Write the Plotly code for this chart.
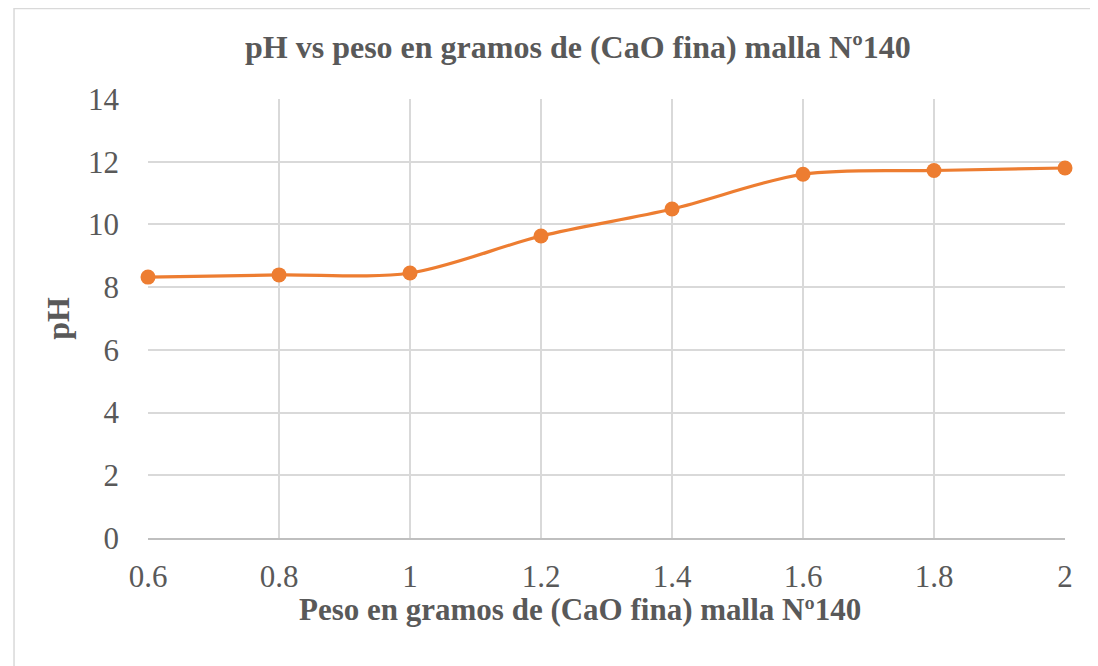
import plotly.graph_objects as go

# Datos
peso_gramos = [0.6, 0.8, 1.0, 1.2, 1.4, 1.6, 1.8, 2.0]
ph_valores = [8.32, 8.39, 8.45, 9.63, 10.49, 11.6, 11.72, 11.8]
x_ticks = [0.6, 0.8, 1.0, 1.2, 1.4, 1.6, 1.8, 2.0]
x_tick_labels = ["0.6", "0.8", "1", "1.2", "1.4", "1.6", "1.8", "2"]

serif = "Liberation Serif, Times New Roman, serif"
naranja = "#ED7D31"
gris_texto = "#595959"
gris_rejilla = "#D9D9D9"

fig = go.Figure()

fig.add_trace(go.Scatter(
    x=peso_gramos,
    y=ph_valores,
    mode="lines+markers",
    line=dict(color=naranja, width=3.2, shape="spline", smoothing=0.9),
    marker=dict(color=naranja, size=15),
    showlegend=False,
    cliponaxis=False,
))

# marco exterior del gráfico
fig.add_shape(
    type="rect", xref="paper", yref="paper",
    x0=-0.1461, y0=-0.35, x1=1.1, y1=1.2062,
    line=dict(color="#D9D9D9", width=1.5), fillcolor="rgba(0,0,0,0)",
    layer="below",
)

# título del eje x (algo desplazado a la izquierda, como en el original)
fig.add_annotation(
    text="<b>Peso en gramos de (CaO fina) malla Nº140</b>",
    xref="paper", yref="paper", x=0.471, y=-0.163,
    xanchor="center", yanchor="middle", showarrow=False,
    font=dict(family=serif, size=31, color=gris_texto),
)

fig.update_layout(
    width=1098, height=666,
    paper_bgcolor="white", plot_bgcolor="white",
    margin=dict(l=140, r=41, t=91, b=136),
    title=dict(
        text="<b>pH vs peso en gramos de (CaO fina) malla Nº140</b>",
        x=0.519, xanchor="center", y=0.9414, yanchor="middle",
        font=dict(family=serif, size=32, color=gris_texto),
    ),
    font=dict(family=serif, color=gris_texto),
)

fig.update_xaxes(
    range=[0.6, 2.0],
    tickvals=x_ticks, ticktext=x_tick_labels,
    showgrid=True, gridcolor=gris_rejilla, gridwidth=1.5,
    showline=True, linecolor="#BFBFBF", linewidth=1.5,
    zeroline=False, ticks="", ticklabelstandoff=10,
    tickfont=dict(family=serif, size=31, color=gris_texto),
)

fig.update_yaxes(
    range=[0, 14], dtick=2,
    showgrid=True, gridcolor=gris_rejilla, gridwidth=1.5,
    showline=False, zeroline=False, ticks="", ticklabelstandoff=28,
    tickfont=dict(family=serif, size=31, color=gris_texto),
    title=dict(text="<b>pH</b>", standoff=8,
               font=dict(family=serif, size=32, color=gris_texto)),
)

fig.write_html("out.html")
